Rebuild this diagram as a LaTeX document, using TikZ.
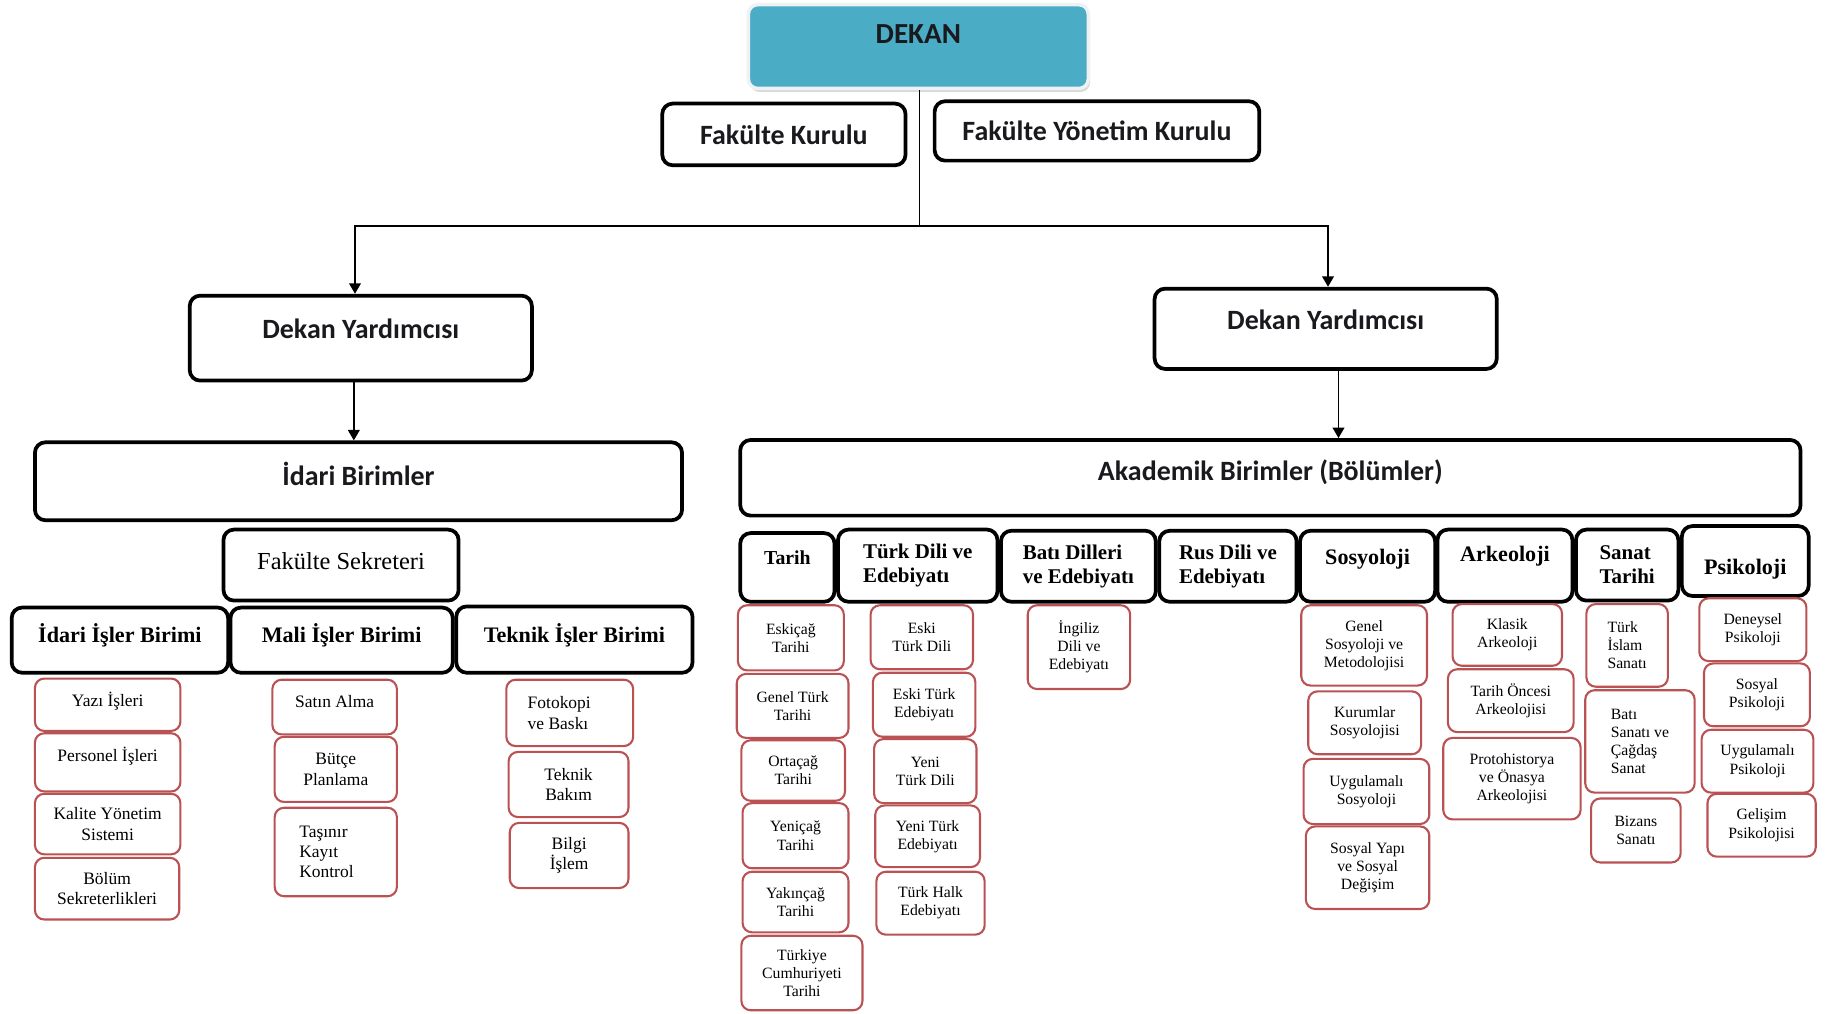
\documentclass[tikz,border=0pt]{standalone}
\usepackage{fontspec}
\setmainfont{Liberation Serif}
\newfontfamily\calfont{Carlito}
\usetikzlibrary{arrows.meta,shadows}
\definecolor{boxred}{RGB}{186,82,84}
\definecolor{dekanblue}{RGB}{75,172,198}
\newcommand\bx[8]{\node[#1, minimum width={#5-#3}, minimum height={#6-#4}, label={[#7]center:{#8}}] (#2) at ({(#3+#5)/2},{(#4+#6)/2}) {};}
\begin{document}
\begin{tikzpicture}[x=1pt,y=-1pt,
 bb/.style={draw=black, line width=3.2pt, rounded corners=9pt, fill=white, inner sep=0pt},
 rb/.style={draw=boxred, line width=1.8pt, rounded corners=8pt, fill=white, inner sep=0pt},
 dk/.style={draw={rgb,255:red,238;green,242;blue,244}, line width=3pt, rounded corners=8pt, fill=dekanblue, inner sep=0pt, drop shadow={shadow xshift=1.5pt, shadow yshift=-3pt, opacity=0.3}},
 cal/.style={font=\calfont\bfseries\fontsize{24}{28}\selectfont, text={rgb,255:red,25;green,25;blue,30}},
 hd/.style={font=\bfseries\fontsize{19}{21}\selectfont, align=center},
 hda/.style={font=\bfseries\fontsize{18}{20.5}\selectfont, align=left},
 sk/.style={font=\fontsize{21}{24}\selectfont},
 rt/.style={font=\fontsize{15}{17.5}\selectfont, align=center},
 rl/.style={font=\fontsize{15}{17.5}\selectfont, align=left},
 ra/.style={font=\fontsize{13.5}{15.5}\selectfont, align=center},
 ral/.style={font=\fontsize{13.5}{15.5}\selectfont, align=left},
 conn/.style={line width=1.6pt},
 arr/.style={conn, -{Triangle[length=9pt,width=10pt]}}]
\useasboundingbox (0,0) rectangle (1568,871);
% top
\bx{dk}{dekan}{643}{4}{935}{76}{cal,font=\calfont\bfseries\fontsize{25}{28}\selectfont,yshift=11pt}{DEKAN}
\bx{bb}{fk}{569}{89}{778}{142}{cal}{Fakülte Kurulu}
\bx{bb}{fyk}{803}{87}{1082}{138}{cal}{Fakülte Yönetim Kurulu}
\bx{bb}{dy1}{163}{254}{457}{327}{cal,yshift=8pt}{Dekan Yardımcısı}
\bx{bb}{dy2}{992}{248}{1286}{317}{cal,yshift=8pt}{Dekan Yardımcısı}
\bx{bb}{idari}{30}{380}{586}{447}{cal,yshift=6pt}{İdari Birimler}
\bx{bb}{akad}{636}{378}{1547}{443}{cal,yshift=5pt}{Akademik Birimler (Bölümler)}
% connectors
\coordinate (jn) at (790,194);
\draw[conn] (dekan.south -| jn) -- (jn);
\draw[arr] (jn) -| ([xshift=-5pt]dy1.north);
\draw[arr] (jn) -| ([xshift=2pt]dy2.north);
\draw[arr] ([xshift=-6pt]dy1.south) -- ([xshift=-6pt]dy1.south |- idari.north);
\draw[arr] ([xshift=11pt]dy2.south) -- ([xshift=11pt]dy2.south |- akad.north);
% administrative
\bx{bb}{sek}{192}{455}{394}{516}{sk,yshift=3pt}{Fakülte Sekreteri}
\bx{bb}{iib}{10}{522}{196}{578}{hd,yshift=4pt}{İdari İşler Birimi}
\bx{bb}{mib}{198}{522}{389}{578}{hd,yshift=4pt}{Mali İşler Birimi}
\bx{bb}{tib}{392}{521}{595}{578}{hd,yshift=4pt}{Teknik İşler Birimi}
\bx{rb}{yazi}{30}{583}{155}{628}{rt,yshift=3pt}{Yazı İşleri}
\bx{rb}{pers}{30}{630}{155}{680}{rt,yshift=5pt}{Personel İşleri}
\bx{rb}{kal}{30}{682}{155}{734}{rt}{Kalite Yönetim\\Sistemi}
\bx{rb}{bol}{30}{737}{154}{790}{rt}{Bölüm\\Sekreterlikleri}
\bx{rb}{satin}{234}{584}{341}{631}{rt,yshift=5pt}{Satın Alma}
\bx{rb}{butce}{236}{633}{341}{689}{rt}{Bütçe\\Planlama}
\bx{rb}{tasinir}{236}{694}{341}{770}{rl,xshift=-8pt}{Taşınır\\Kayıt\\Kontrol}
\bx{rb}{foto}{435}{584}{544}{641}{rl,xshift=-9pt}{Fotokopi\\ve Baskı}
\bx{rb}{tekbak}{437}{646}{540}{702}{rt}{Teknik\\Bakım}
\bx{rb}{bilgi}{438}{707}{540}{763}{rt}{Bilgi\\İşlem}
% academic headings
\bx{bb}{tarih}{636}{458}{717}{517}{hda,font=\bfseries\fontsize{17}{20}\selectfont,yshift=8pt}{Tarih}
\bx{bb}{tdl}{720}{455}{857}{517}{hda}{Türk Dili ve\\Edebiyatı}
\bx{bb}{bati}{860}{456}{993}{517}{hda}{Batı Dilleri\\ve Edebiyatı}
\bx{bb}{rus}{996}{456}{1114}{517}{hda}{Rus Dili ve\\Edebiyatı}
\bx{bb}{sos}{1117}{456}{1233}{517}{hda,font=\bfseries\fontsize{19}{21}\selectfont,yshift=6pt}{Sosyoloji}
\bx{bb}{ark}{1235}{455}{1351}{517}{hda,font=\bfseries\fontsize{19}{21}\selectfont,yshift=8pt}{Arkeoloji}
\bx{bb}{sanat}{1354}{455}{1442}{516}{hda}{Sanat\\Tarihi}
\bx{bb}{psi}{1445}{452}{1554}{512}{hda,font=\bfseries\fontsize{19}{21}\selectfont,yshift=-7pt}{Psikoloji}
% Tarih
\bx{rb}{t1}{634}{520}{725}{576}{ra}{Eskiçağ\\Tarihi}
\bx{rb}{t2}{633}{579}{729}{634}{ra}{Genel Türk\\Tarihi}
\bx{rb}{t3}{637}{636}{726}{688}{ra}{Ortaçağ\\Tarihi}
\bx{rb}{t4}{638}{690}{729}{746}{ra}{Yeniçağ\\Tarihi}
\bx{rb}{t5}{638}{749}{729}{801}{ra}{Yakınçağ\\Tarihi}
\bx{rb}{t6}{637}{804}{741}{868}{ra}{Türkiye\\Cumhuriyeti\\Tarihi}
% Turk Dili
\bx{rb}{d1}{748}{520}{836}{575}{ra}{Eski\\Türk Dili}
\bx{rb}{d2}{750}{578}{838}{633}{ra}{Eski Türk\\Edebiyatı}
\bx{rb}{d3}{751}{635}{839}{690}{ra}{Yeni\\Türk Dili}
\bx{rb}{d4}{752}{692}{842}{745}{ra}{Yeni Türk\\Edebiyatı}
\bx{rb}{d5}{753}{749}{846}{803}{ra}{Türk Halk\\Edebiyatı}
% Bati
\bx{rb}{b1}{883}{520}{971}{592}{ra}{İngiliz\\Dili ve\\Edebiyatı}
% Sosyoloji
\bx{rb}{s1}{1118}{520}{1226}{589}{ra}{Genel\\Sosyoloji ve\\Metodolojisi}
\bx{rb}{s2}{1124}{594}{1221}{648}{ra}{Kurumlar\\Sosyolojisi}
\bx{rb}{s3}{1120}{652}{1228}{708}{ra}{Uygulamalı\\Sosyoloji}
\bx{rb}{s4}{1122}{710}{1228}{781}{ra}{Sosyal Yapı\\ve Sosyal\\Değişim}
% Arkeoloji
\bx{rb}{a1}{1248}{519}{1342}{572}{ra}{Klasik\\Arkeoloji}
\bx{rb}{a2}{1244}{575}{1352}{629}{ra}{Tarih Öncesi\\Arkeolojisi}
\bx{rb}{a3}{1240}{634}{1358}{704}{ra}{Protohistorya\\ve Önasya\\Arkeolojisi}
% Sanat Tarihi
\bx{rb}{n1}{1363}{519}{1433}{590}{ral}{Türk\\İslam\\Sanatı}
\bx{rb}{n2}{1362}{593}{1456}{681}{ral}{Batı\\Sanatı ve\\Çağdaş\\Sanat}
\bx{rb}{n3}{1367}{686}{1444}{741}{ra}{Bizans\\Sanatı}
% Psikoloji
\bx{rb}{p1}{1460}{514}{1552}{568}{ra}{Deneysel\\Psikoloji}
\bx{rb}{p2}{1464}{570}{1555}{624}{ra}{Sosyal\\Psikoloji}
\bx{rb}{p3}{1462}{627}{1558}{681}{ra}{Uygulamalı\\Psikoloji}
\bx{rb}{p4}{1467}{682}{1560}{736}{ra}{Gelişim\\Psikolojisi}
\end{tikzpicture}
\end{document}
